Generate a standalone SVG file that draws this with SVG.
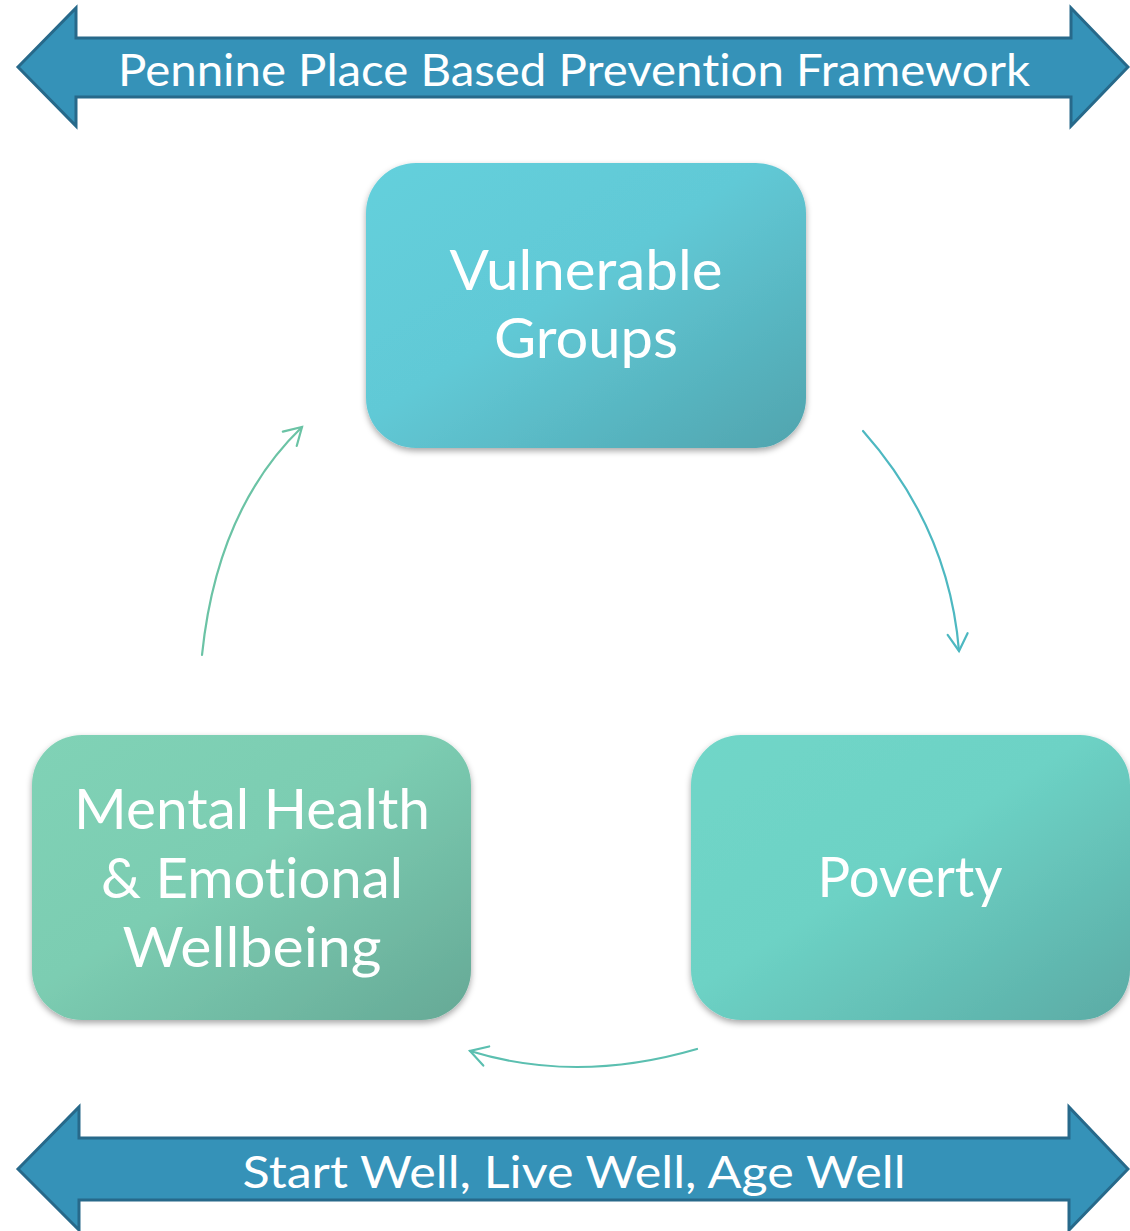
<svg xmlns="http://www.w3.org/2000/svg" width="1130" height="1231" viewBox="0 0 1130 1231">
<style>
.banner{fill:#3592b8;stroke:#27698a;stroke-width:3;stroke-linejoin:miter}
.btxt{font-family:Lato,"Open Sans","Liberation Sans",sans-serif;font-size:44px;fill:#ffffff;text-anchor:middle;font-variant-ligatures:none}
.ntxt{font-family:Lato,"Open Sans","Liberation Sans",sans-serif;font-size:56px;fill:#ffffff;text-anchor:middle;font-variant-ligatures:none}
.conn{fill:none;stroke-width:2.2;stroke-linecap:round}
</style>
<defs>
<filter id="sh" x="-10%" y="-10%" width="120%" height="125%">
<feDropShadow dx="0" dy="3" stdDeviation="3" flood-color="#000" flood-opacity="0.35"/>
</filter>
<linearGradient id="gV" x1="0" y1="0" x2="1" y2="1">
<stop offset="0" stop-color="#64d0dc"/><stop offset="0.45" stop-color="#61c9d6"/><stop offset="1" stop-color="#50a4ae"/>
</linearGradient>
<linearGradient id="gP" x1="0" y1="0" x2="1" y2="1">
<stop offset="0" stop-color="#70d6c8"/><stop offset="0.45" stop-color="#6dd2c5"/><stop offset="1" stop-color="#5baba5"/>
</linearGradient>
<linearGradient id="gM" x1="0" y1="0" x2="1" y2="1">
<stop offset="0" stop-color="#80d2b6"/><stop offset="0.45" stop-color="#7ccdb2"/><stop offset="1" stop-color="#66a996"/>
</linearGradient>
<marker id="aR" markerUnits="userSpaceOnUse" markerWidth="24" markerHeight="24" viewBox="-20 -12 24 24" refX="0" refY="0" orient="auto">
<path d="M-17,-10 L0,0 L-17,10" fill="none" stroke="#4db8c1" stroke-width="2.2" stroke-linecap="round" stroke-linejoin="miter"/>
</marker>
<marker id="aL" markerUnits="userSpaceOnUse" markerWidth="24" markerHeight="24" viewBox="-20 -12 24 24" refX="0" refY="0" orient="auto">
<path d="M-17,-10 L0,0 L-17,10" fill="none" stroke="#6bc3a5" stroke-width="2.2" stroke-linecap="round" stroke-linejoin="miter"/>
</marker>
<marker id="aB" markerUnits="userSpaceOnUse" markerWidth="24" markerHeight="24" viewBox="-20 -12 24 24" refX="0" refY="0" orient="auto">
<path d="M-17,-10 L0,0 L-17,10" fill="none" stroke="#5bbfb0" stroke-width="2.2" stroke-linecap="round" stroke-linejoin="miter"/>
</marker>
</defs>
<rect width="1130" height="1231" fill="#ffffff"/>

<g id="banner-top">
<polygon class="banner" points="18,67 76,8 76,38 1071,38 1071,8 1128,67 1071,126 1071,97 76,97 76,126"/>
<text class="btxt" x="574" y="86" textLength="912" lengthAdjust="spacingAndGlyphs">Pennine Place Based Prevention Framework</text>
</g>

<g id="banner-bottom">
<polygon class="banner" points="18,1169 79,1107 79,1138 1069,1138 1069,1107 1128,1169 1069,1230 1069,1200 79,1200 79,1230"/>
<text class="btxt" x="574" y="1188" textLength="663" lengthAdjust="spacingAndGlyphs">Start Well, Live Well, Age Well</text>
</g>

<g id="connectors">
<path class="conn" stroke="#4db8c1" d="M863,431 Q949,528 959,651" marker-end="url(#aR)"/>
<path class="conn" stroke="#6bc3a5" d="M202,655 Q217,509 302,427" marker-end="url(#aL)"/>
<path class="conn" stroke="#5bbfb0" d="M697,1049 Q577,1084 470,1051" marker-end="url(#aB)"/>
</g>

<g id="node-vulnerable">
<rect x="366" y="163" width="440" height="285" rx="50" fill="url(#gV)" filter="url(#sh)"/>
<text class="ntxt" x="586" y="290" textLength="273" lengthAdjust="spacingAndGlyphs">Vulnerable</text>
<text class="ntxt" x="586" y="358" textLength="184" lengthAdjust="spacingAndGlyphs">Groups</text>
</g>

<g id="node-poverty">
<rect x="691" y="735" width="439" height="285" rx="50" fill="url(#gP)" filter="url(#sh)"/>
<text class="ntxt" x="910" y="897" textLength="185" lengthAdjust="spacingAndGlyphs">Poverty</text>
</g>

<g id="node-mental">
<rect x="32" y="735" width="439" height="285" rx="50" fill="url(#gM)" filter="url(#sh)"/>
<text class="ntxt" x="252" y="829" textLength="356" lengthAdjust="spacingAndGlyphs">Mental Health</text>
<text class="ntxt" x="252" y="898" textLength="302" lengthAdjust="spacingAndGlyphs">&amp; Emotional</text>
<text class="ntxt" x="252" y="967" textLength="259" lengthAdjust="spacingAndGlyphs">Wellbeing</text>
</g>
</svg>
